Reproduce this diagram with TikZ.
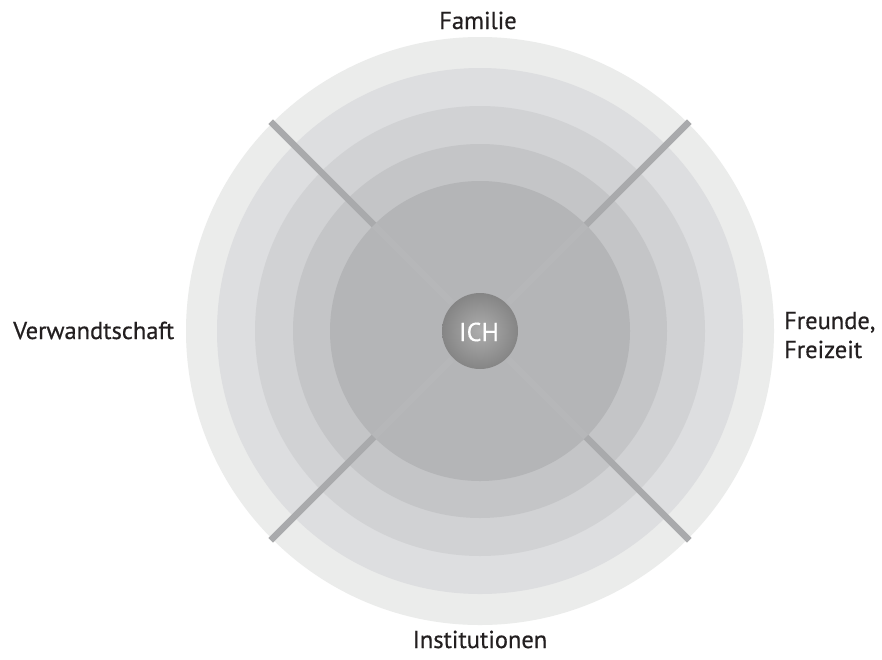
\documentclass[tikz,border=0pt]{standalone}
\usepackage{fontspec}
\setmainfont{PT Sans}
\newfontfamily\lblfont[FakeBold=0.5]{PT Sans}
\newfontfamily\ichfont[FakeBold=0.2]{PT Sans}
\usetikzlibrary{calc}
\definecolor{ringA}{HTML}{EBECEB}
\definecolor{ringB}{HTML}{DDDEE0}
\definecolor{ringC}{HTML}{D1D2D4}
\definecolor{ringD}{HTML}{C4C5C7}
\definecolor{ringE}{HTML}{B4B5B7}
\definecolor{spoke}{HTML}{A9AAAC}
\definecolor{spokefaint}{HTML}{B6B7B9}
\definecolor{ballin}{HTML}{ADADAD}
\definecolor{ballout}{HTML}{858585}
\definecolor{txt}{HTML}{231F20}
\tikzset{
  lbl/.style={font=\lblfont\fontsize{24.5}{29}\selectfont, text=txt, inner sep=0pt},
  ichlbl/.style={font=\ichfont\fontsize{26}{30}\selectfont, text=white, inner sep=0pt},
  spokeline/.style={line width=6.5pt, draw=spoke},
  faintline/.style={line width=6.5pt, draw=spokefaint},
}
\begin{document}
\begin{tikzpicture}[x=1pt,y=-1pt]
\useasboundingbox (0,0) rectangle (882,659);
\fill[white] (0,0) rectangle (882,659);
\coordinate (c) at (480,331);
\fill[ringA] (c) circle (294);
\fill[ringB] (c) circle (263);
\fill[ringC] (c) circle (225);
\fill[ringD] (c) circle (187);
\fill[ringE] (c) circle (150);
\foreach \a in {45,135,225,315}{
  \draw[faintline] ($(c)+(\a:40)$) -- ($(c)+(\a:150)$);
  \draw[spokeline] ($(c)+(\a:150)$) -- ($(c)+(\a:296)$);
}
\shade[inner color=ballin, outer color=ballout] (c) circle (38);
\node[ichlbl] (ich) at (479,332) {ICH};
\node[lbl, anchor=base] (fam) at (478,29) {Familie};
\node[lbl, anchor=base west] (ver) at (13,339) {Verwandtschaft};
\node[lbl, anchor=base west] (fre) at (784,329) {Freunde,};
\node[lbl, anchor=base west] (fre2) at (784,358) {Freizeit};
\node[lbl, anchor=base] (ins) at (480,648) {Institutionen};
\end{tikzpicture}
\end{document}
